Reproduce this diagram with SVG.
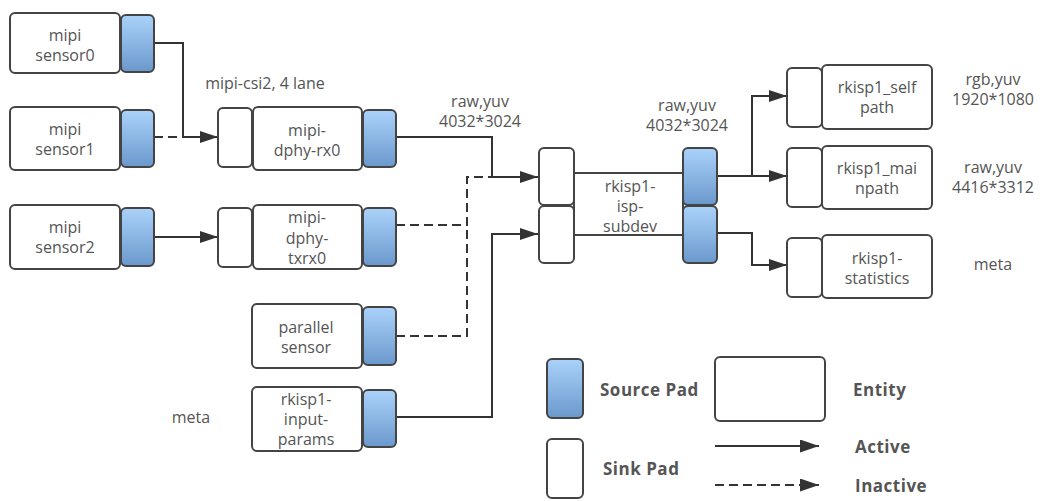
<svg xmlns="http://www.w3.org/2000/svg" width="1046" height="501" viewBox="0 0 1046 501">
<defs>
<linearGradient id="pg" x1="0" y1="0" x2="0" y2="1">
<stop offset="0" stop-color="#aad2fa"/>
<stop offset="1" stop-color="#6b98cc"/>
</linearGradient>
<marker id="ah" viewBox="0 0 18 12" refX="18" refY="6" markerWidth="18" markerHeight="12" markerUnits="userSpaceOnUse" orient="auto">
<path d="M0,0 L18,6 L0,12 Z" fill="#333"/>
</marker>
<marker id="ahl" viewBox="0 0 19 13" refX="19" refY="6.5" markerWidth="19" markerHeight="13" markerUnits="userSpaceOnUse" orient="auto">
<path d="M0,0 L19,6.5 L0,13 Z" fill="#333"/>
</marker>
</defs>
<style>
.ent{fill:#fff;stroke:#444;stroke-width:2}
.src{fill:url(#pg);stroke:#444;stroke-width:2}
.snk{fill:#fff;stroke:#444;stroke-width:2}
.t{font-family:"Open Sans","Noto Sans",sans-serif;font-size:16px;fill:#555;text-anchor:middle;dominant-baseline:central}
.b{font-family:"Open Sans","Noto Sans",sans-serif;font-size:17px;font-weight:bold;fill:#555;dominant-baseline:central;letter-spacing:0.5px}
.c{fill:none;stroke:#333;stroke-width:2}
.d{fill:none;stroke:#333;stroke-width:2;stroke-dasharray:9,5}
</style>
<rect width="1046" height="501" fill="#fff"/>

<g id="connectors">
<path class="c" d="M154,43 H183 V137 H218" marker-end="url(#ah)"/>
<path class="d" d="M154,137 H183"/>
<path class="c" d="M154,237 H218" marker-end="url(#ah)"/>
<path class="c" d="M396,137 H492 V177 H538" marker-end="url(#ah)"/>
<path class="d" d="M396,225 H467 V177 H492"/>
<path class="d" d="M396,336 H467 V225"/>
<path class="c" d="M396,417 H492 V234 H538" marker-end="url(#ah)"/>
<path class="c" d="M717,176 H752 V96 H787" marker-end="url(#ah)"/>
<path class="c" d="M752,176 H787" marker-end="url(#ah)"/>
<path class="c" d="M717,233 H752 V265 H787" marker-end="url(#ah)"/>
</g>

<g id="mipi-sensor0">
<rect class="ent" x="10" y="13" width="110" height="60" rx="5"/>
<rect class="src" x="121" y="15" width="33" height="57" rx="5"/>
<text class="t" x="65" y="35">mipi</text>
<text class="t" x="65" y="55">sensor0</text>
</g>
<g id="mipi-sensor1">
<rect class="ent" x="10" y="107" width="110" height="63" rx="5"/>
<rect class="src" x="121" y="110" width="33" height="57" rx="5"/>
<text class="t" x="65" y="129">mipi</text>
<text class="t" x="65" y="149">sensor1</text>
</g>
<g id="mipi-sensor2">
<rect class="ent" x="10" y="205" width="110" height="64" rx="5"/>
<rect class="src" x="121" y="208" width="33" height="58" rx="5"/>
<text class="t" x="65" y="227">mipi</text>
<text class="t" x="65" y="247">sensor2</text>
</g>
<g id="mipi-dphy-rx0">
<rect class="snk" x="218" y="108" width="34" height="59" rx="5"/>
<rect class="ent" x="253" y="107" width="109" height="63" rx="5"/>
<rect class="src" x="363" y="110" width="33" height="57" rx="5"/>
<text class="t" x="307" y="130">mipi-</text>
<text class="t" x="307" y="150">dphy-rx0</text>
</g>
<g id="mipi-dphy-txrx0">
<rect class="snk" x="218" y="208" width="34" height="59" rx="5"/>
<rect class="ent" x="253" y="205" width="109" height="64" rx="5"/>
<rect class="src" x="363" y="208" width="33" height="58" rx="5"/>
<text class="t" x="307" y="217">mipi-</text>
<text class="t" x="307" y="238">dphy-</text>
<text class="t" x="307" y="258">txrx0</text>
</g>
<g id="parallel-sensor">
<rect class="ent" x="252" y="304" width="110" height="64" rx="5"/>
<rect class="src" x="363" y="307" width="33" height="58" rx="5"/>
<text class="t" x="306" y="327">parallel</text>
<text class="t" x="306" y="347">sensor</text>
</g>
<g id="rkisp1-input-params">
<rect class="ent" x="252" y="387" width="110" height="64" rx="5"/>
<rect class="src" x="363" y="390" width="33" height="57" rx="5"/>
<text class="t" x="306" y="399">rkisp1-</text>
<text class="t" x="306" y="419">input-</text>
<text class="t" x="306" y="439">params</text>
</g>
<g id="rkisp1-isp-subdev">
<rect class="ent" x="574" y="173" width="109" height="62"/>
<rect class="snk" x="539" y="148" width="35" height="57" rx="5"/>
<rect class="snk" x="539" y="206" width="35" height="57" rx="5"/>
<rect class="src" x="683" y="148" width="34" height="57" rx="5"/>
<rect class="src" x="683" y="206" width="34" height="57" rx="5"/>
<text class="t" x="630" y="186">rkisp1-</text>
<text class="t" x="630" y="206">isp-</text>
<text class="t" x="630" y="226">subdev</text>
</g>
<g id="rkisp1-selfpath">
<rect class="snk" x="787" y="68" width="35" height="59" rx="5"/>
<rect class="ent" x="822" y="65" width="110" height="64" rx="5"/>
<text class="t" x="877" y="87">rkisp1_self</text>
<text class="t" x="877" y="107">path</text>
</g>
<g id="rkisp1-mainpath">
<rect class="snk" x="787" y="148" width="35" height="59" rx="5"/>
<rect class="ent" x="822" y="146" width="110" height="63" rx="5"/>
<text class="t" x="877" y="168">rkisp1_mai</text>
<text class="t" x="877" y="188">npath</text>
</g>
<g id="rkisp1-statistics">
<rect class="snk" x="787" y="238" width="35" height="59" rx="5"/>
<rect class="ent" x="822" y="235" width="110" height="63" rx="5"/>
<text class="t" x="877" y="258">rkisp1-</text>
<text class="t" x="877" y="278">statistics</text>
</g>

<g id="labels">
<text class="t" x="265" y="83">mipi-csi2, 4 lane</text>
<text class="t" x="480" y="101">raw,yuv</text>
<text class="t" x="480" y="121">4032*3024</text>
<text class="t" x="687" y="105">raw,yuv</text>
<text class="t" x="687" y="125">4032*3024</text>
<text class="t" x="993" y="79">rgb,yuv</text>
<text class="t" x="993" y="99">1920*1080</text>
<text class="t" x="993" y="167">raw,yuv</text>
<text class="t" x="993" y="187">4416*3312</text>
<text class="t" x="993" y="264">meta</text>
<text class="t" x="191" y="417">meta</text>
</g>

<g id="legend">
<rect class="src" x="547" y="359" width="36" height="59" rx="5"/>
<text class="b" x="600" y="389">Source Pad</text>
<rect class="ent" x="715" y="357" width="110" height="64" rx="5"/>
<text class="b" x="853" y="389">Entity</text>
<rect class="snk" x="547" y="439" width="36" height="59" rx="5"/>
<text class="b" x="603" y="468">Sink Pad</text>
<path class="c" d="M715,446 H819" marker-end="url(#ahl)"/>
<text class="b" x="855" y="446">Active</text>
<path class="d" d="M715,485 H819" marker-end="url(#ahl)"/>
<text class="b" x="855" y="485">Inactive</text>
</g>
</svg>
